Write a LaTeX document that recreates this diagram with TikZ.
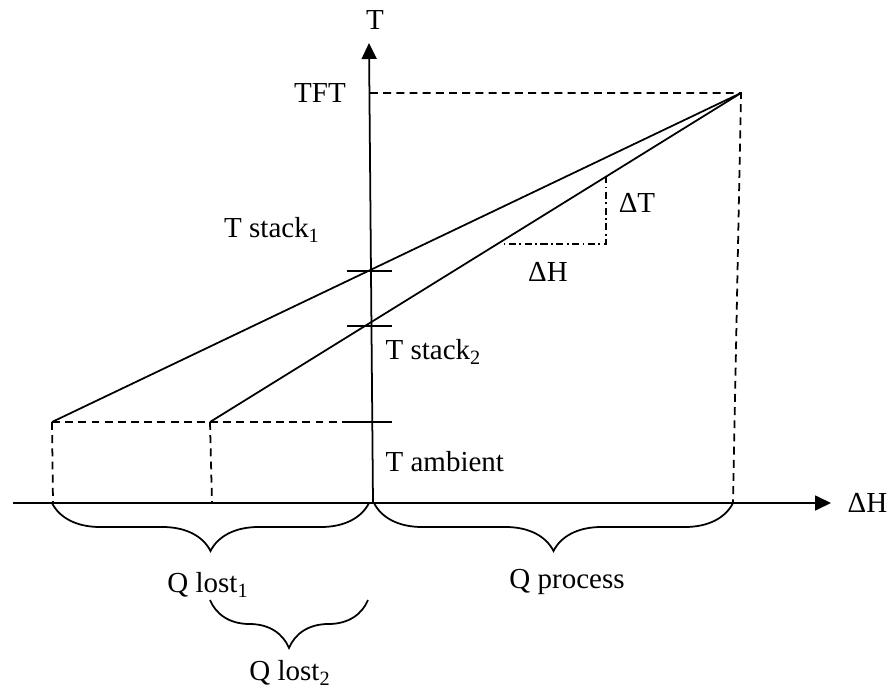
\documentclass[tikz,border=0pt]{standalone}
\usepackage{fontspec}
\setmainfont{Liberation Serif}
\usetikzlibrary{arrows.meta, decorations.pathreplacing, positioning, calc}

\begin{document}
\begin{tikzpicture}[
    x=0.02cm, y=-0.02cm,
    line width=1pt,
    font=\fontsize{16.5}{19}\selectfont,
    axis/.style={-{Triangle[length=0.32cm, width=0.3cm]}},
    guide/.style={dash pattern=on 4.5pt off 3pt},
    slopeline/.style={dash pattern=on 4pt off 2pt on 1pt off 2pt},
    qbrace/.style={decorate, decoration={brace, amplitude=0.96cm}},
    txt/.style={inner sep=1pt}
]
    \useasboundingbox (0,0) rectangle (890,690);

    % Axes
    \coordinate (o) at (373,503);
    \coordinate (ttop) at (369,43);
    \coordinate (hleft) at (13,503);
    \coordinate (hright) at (831,503);
    \draw[axis] (o) -- (ttop);
    \draw[axis] (hleft) -- (hright);
    \node[txt] (tlab) at (375,20) {T};
    \node[txt, right=0.28cm of hright] (hlab) {ΔH};

    % Points
    \coordinate (apex) at (741,93);
    \coordinate (tft) at (370,93);
    \coordinate (p1) at (52,422);
    \coordinate (p2) at (210,422);
    \coordinate (amb) at (372,422);
    \coordinate (q1) at (53,503);
    \coordinate (q2) at (212,503);
    \coordinate (q3) at (733,503);

    % Guide lines
    \draw[guide] (tft) -- (apex) -- (q3);
    \draw[guide] (p1) -- (amb);
    \draw[guide] (p1) -- (q1);
    \draw[guide] (p2) -- (q2);

    % Stack lines
    \draw (p1) -- (apex);
    \draw (p2) -- (apex);

    % Ticks on T axis
    \foreach \ty in {271,326,422}
        \draw (347,\ty) -- (392,\ty);

    % Slope
    \coordinate (s1) at (606,176);
    \coordinate (s2) at (606,244);
    \coordinate (s3) at (503,244);
    \draw[slopeline] (s1) -- (s2) -- (s3);
    \node[txt] (dt) at (637,203) {ΔT};
    \node[txt] (dh) at (548,272) {ΔH};

    % Labels on T axis
    \node[txt] (tft lab) at (320,93) {TFT};
    \node[txt] (stack1) at (272,230) {T stack\textsubscript{1}};
    \node[txt, anchor=west] (stack2) at (383,352) {T stack\textsubscript{2}};
    \node[txt, anchor=west] (ambient) at (383,462) {T ambient};

    % Braces
    \draw[qbrace, decoration={mirror}] (52,503) -- (369,503);
    \draw[qbrace, decoration={mirror}] (374,503) -- (733,503);
    \draw[qbrace, decoration={mirror}] (210,600) -- (368,600);
    \node[txt] (lost1) at (208,585) {Q lost\textsubscript{1}};
    \node[txt] (process) at (567,582) {Q process};
    \node[txt] (lost2) at (290,673) {Q lost\textsubscript{2}};

\end{tikzpicture}
\end{document}
